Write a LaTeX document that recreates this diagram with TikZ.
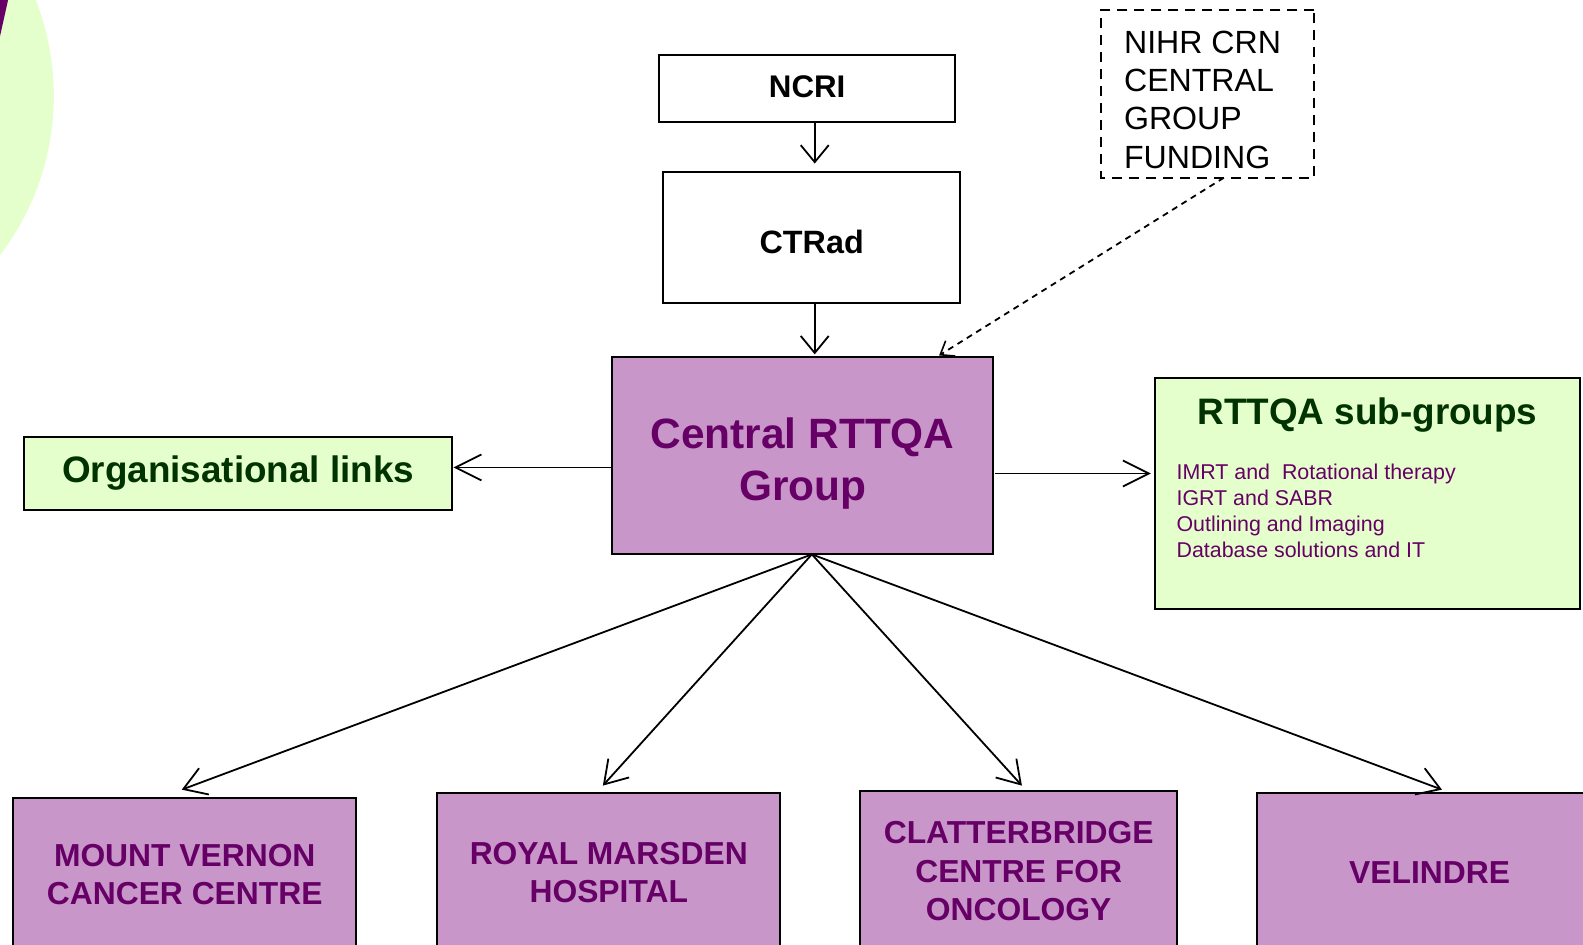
\documentclass[tikz,border=0pt]{standalone}
\usepackage{fontspec}
\setmainfont{Liberation Sans}
\usetikzlibrary{arrows.meta}
\definecolor{dpurple}{RGB}{102,0,102}
\definecolor{dgreen}{RGB}{0,51,0}
\definecolor{lgreen}{RGB}{229,255,204}
\definecolor{mpurple}{RGB}{201,150,201}
\begin{document}
\begin{tikzpicture}[x=0.5pt,y=-0.5pt,scale=1.00957,every node/.append style={transform shape},
  box/.style={draw=black,line width=1pt,inner sep=0pt},
  plainbox/.style={box,fill=white},
  purplebox/.style={box,fill=mpurple},
  greenbox/.style={box,fill=lgreen},
  conn/.style={line width=0.9pt},
  vhead/.style={-{Straight Barb[length=8.5pt,width=14pt,line width=0.9pt]}},
  hhead/.style={-{Straight Barb[length=13pt,width=13pt,line width=0.9pt]}},
  dhead/.style={-{Straight Barb[length=11pt,width=14pt,line width=0.9pt]}},
  smallhead/.style={-{Straight Barb[length=6pt,width=9pt,line width=0.8pt]}},
  purpletxt/.style={font=\fontsize{15.75}{19}\selectfont\bfseries,text=dpurple,align=center,inner sep=0pt}
]
\useasboundingbox (0,0) rectangle (1568,936.04);
\clip (0,0) rectangle (1568,936.04);
% decorative circle
\fill[lgreen] (-206.7,95) circle[radius=260];
\fill[dpurple] (0,0) -- (8,0) -- (0,36) -- cycle;

% top boxes
\node[plainbox,minimum width=146.5pt,minimum height=33.5pt] (ncri) at (799.5,87.5) {};
\node[inner sep=0pt,font=\fontsize{15.5}{19}\selectfont\bfseries] (ncritext) at (799.5,85.6) {NCRI};
\node[plainbox,minimum width=147pt,minimum height=65pt] (ctrad) at (804,235) {};
\node[inner sep=0pt,font=\fontsize{16}{19}\selectfont\bfseries] (ctradtext) at (804,239.7) {CTRad};
\node[box,dashed,line width=1pt,dash pattern=on 5pt off 3.5pt,minimum width=105.5pt,minimum height=83pt] (nihr) at (1196.5,93) {};
\node[anchor=west,align=left,inner sep=0pt,font=\fontsize{15.9}{19}\selectfont] (nihrtext) at (1113,98.8) {NIHR CRN\\CENTRAL\\GROUP\\FUNDING};

% central
\node[purplebox,minimum width=189pt,minimum height=97.5pt] (central) at (795,451.5) {};
\node[inner sep=0pt,font=\fontsize{21}{25.5}\selectfont\bfseries,text=dpurple,align=center] (centraltext) at (795,459) {Central RTTQA\\Group};

% organisational links
\node[greenbox,minimum width=212pt,minimum height=36pt,font=\fontsize{18.25}{22}\selectfont\bfseries,text=dgreen] (org) at (236,469) {Organisational links};

% sub-groups
\node[greenbox,minimum width=210.5pt,minimum height=114.5pt] (sub) at (1354.5,488.5) {};
\node[font=\fontsize{18.25}{22}\selectfont\bfseries,text=dgreen,inner sep=0pt] (subtitle) at (1354.5,411) {RTTQA sub-groups};
\node[anchor=west,align=left,inner sep=0pt,font=\fontsize{10.6}{12.75}\selectfont,text=dpurple] (subitems) at (1165,506) {IMRT and\ \ Rotational therapy\\IGRT and SABR\\Outlining and Imaging\\Database solutions and IT};

% bottom boxes
\node[purplebox,minimum width=170pt,minimum height=85pt] (mv) at (183,875) {};
\node[purpletxt] (mvtext) at (183,866) {MOUNT VERNON\\CANCER CENTRE};
\node[purplebox,minimum width=170pt,minimum height=87.5pt] (rm) at (603,872.5) {};
\node[purpletxt] (rmtext) at (603,864) {ROYAL MARSDEN\\HOSPITAL};
\node[purplebox,minimum width=157pt,minimum height=88.5pt] (cl) at (1009,871.5) {};
\node[purpletxt] (cltext) at (1009,863) {CLATTERBRIDGE\\CENTRE FOR\\ONCOLOGY};
\node[purplebox,minimum width=175pt,minimum height=87.5pt] (ve) at (1420,872.5) {};
\node[purpletxt] (vetext) at (1416,864) {VELINDRE};

% coordinates
\coordinate (cb) at (804,549);
\coordinate (t1) at (180,782);
\coordinate (t2) at (597,778);
\coordinate (t3) at (1012,778);
\coordinate (t4) at (1428,782);
\coordinate (nihrfoot) at (1212,176);
\coordinate (nihrtip) at (930,352);

% connectors
\draw[conn,vhead] (ncri.south -| 807,0) -- (807,162);
\draw[conn,vhead] (ctrad.south -| 807,0) -- (807,351);
\draw[conn,smallhead,dashed,dash pattern=on 3pt off 2.5pt] (nihrfoot) -- (nihrtip);
\draw[conn,hhead] (central.west |- 0,463) -- (org.east |- 0,463);
\draw[conn,hhead] (central.east |- 0,469) -- (1140,469);
\draw[conn,dhead] (cb) -- (t1);
\draw[conn,dhead] (cb) -- (t2);
\draw[conn,dhead] (cb) -- (t3);
\draw[conn,dhead] (cb) -- (t4);
\end{tikzpicture}
\end{document}
